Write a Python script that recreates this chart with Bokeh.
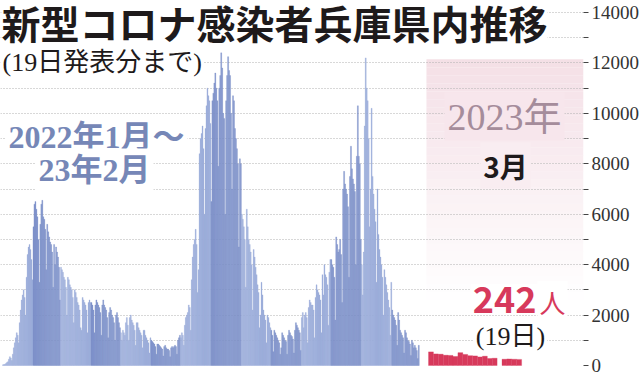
import numpy as np
import pandas as pd
from bokeh.plotting import figure
from bokeh.models import Range1d, FixedTicker, Label, ColumnDataSource
from bokeh.embed import file_html
from bokeh.resources import INLINE

# Daily new cases, Hyogo
jan22 = [30, 40, 50, 80, 120, 150, 250, 350, 300, 200, 450, 700, 900, 1100, 1300, 1200, 900,
         1700, 2200, 2600, 2800, 3000, 2700, 2000, 3500, 4400, 4700, 4800, 4600, 4200, 3400]
feb22 = [5500, 6400, 6500, 6200, 5900, 5000, 3300, 5600, 6400, 6550, 5900, 5800, 5400, 3800,
         5600, 5300, 5100, 4900, 4800, 4500, 3100, 4800, 4000, 4700, 4500, 4300, 3900, 2600]
mar22 = [3900, 3800, 3700, 3500, 3400, 3100, 2000, 3500, 3400, 3200, 3100, 3000, 2700, 1700,
         3000, 2900, 2700, 2500, 2400, 2200, 1500, 1400, 2700, 2600, 2500, 2400, 2200, 1300,
         2500, 2600, 2500]
apr22 = [2500, 2400, 2200, 1300, 2400, 2600, 2500, 2400, 2300, 2100, 1200, 2400, 2600, 2400,
         2300, 2200, 1900, 1100, 2100, 2300, 2200, 2000, 1900, 1700, 1000, 2000, 2100, 1900,
         1700, 1500]
may22 = [1300, 1000, 1400, 1300, 1200, 1700, 1900, 1600, 1000, 1900, 2000, 1800, 1700, 1600,
         1400, 800, 1700, 1700, 1500, 1400, 1300, 1200, 700, 1400, 1400, 1200, 1100, 1000, 900,
         500, 1100]
jun22 = [1000, 950, 900, 850, 750, 450, 850, 850, 800, 750, 700, 650, 380, 750, 800, 700, 650,
         650, 600, 350, 700, 750, 700, 750, 800, 750, 450, 1000, 1100, 1200]
jul22 = [1100, 1300, 1200, 800, 1600, 1900, 2000, 2100, 2400, 2300, 1400, 3400, 4300, 4800,
         5000, 5400, 4800, 2900, 3800, 8400, 9000, 9200, 9500, 8600, 6000, 9400, 10300, 11000,
         10700, 10500, 9600]
aug22 = [6500, 10500, 10800, 11200, 11600, 11000, 10500, 7900, 11000, 11500, 12400, 11800,
         10000, 9800, 6000, 10500, 11500, 12250, 11700, 11500, 10000, 7000, 10700, 10500, 9400,
         9000, 8600, 8000, 4700, 8200, 8000]
sep22 = [6000, 5800, 5500, 5000, 3100, 6200, 5500, 5000, 4800, 4500, 4000, 2200, 4600, 4300,
         3900, 3600, 3200, 2900, 1500, 2000, 3300, 2800, 2200, 2000, 1800, 900, 2000, 1900, 1700,
         1500]
oct22 = [1400, 1200, 550, 1400, 1300, 1200, 1100, 1000, 900, 450, 700, 1300, 1200, 1100, 1000,
         950, 450, 1200, 1400, 1300, 1200, 1150, 1050, 500, 1400, 1700, 1600, 1500, 1400, 1300,
         600]
nov22 = [1900, 2100, 1500, 2000, 2100, 1900, 900, 2300, 2600, 2500, 2400, 2400, 2200, 1100,
         2700, 3200, 3000, 2900, 2800, 2600, 1300, 3600, 2800, 4000, 3600, 3500, 3200, 1600,
         3700, 4200]
dec22 = [4200, 4000, 3900, 3500, 1800, 5100, 4800, 4500, 4600, 5000, 4400, 2500, 7000, 7700,
         7200, 7000, 6800, 6300, 3500, 7500, 8700, 7800, 7400, 7200, 6900, 4000, 8300, 10300,
         8300, 8000, 5000]
jan23 = [4000, 2800, 4500, 9500, 12200, 11000, 10500, 9000, 5500, 7000, 10200, 7500, 6800, 6200,
         5700, 3300, 7000, 5200, 4600, 4300, 4000, 3500, 2000, 3800, 3500, 3200, 2900, 2600, 2300,
         1200, 3300]
feb23 = [2200, 2000, 1900, 1800, 1600, 800, 2100, 1800, 1400, 1300, 1200, 1100, 500, 1400, 1300,
         1100, 1000, 950, 850, 400, 1000, 900, 700, 800, 700, 600, 280, 800]
# March 2023 (1st - 19th); NaN = no bar shown
mar23 = [540, 460, 450, 410, 400, 360, 510, 440, 390, 380, 340, 370, 280, 290, float("nan"),
         250, 260, 250, 242]

y_ticks = [0, 2000, 4000, 6000, 8000, 10000, 12000, 14000]
y_minor = [1000, 3000, 5000, 7000, 9000, 11000, 13000]
grid_ticks = [1000, 2000, 3000, 4000, 5000, 6000, 7000, 8000, 9000, 10000, 11000, 12000, 13000, 14000]

LIGHT = "#9badd9"
DARK = "#7c90c9"
RED = "#d7395b"
PINK = "#f4dfe6"

blue = jan22 + feb22 + mar22 + apr22 + may22 + jun22 + jul22 + aug22 + sep22 + oct22 + nov22 + dec22 + jan23 + feb23
dates = pd.date_range("2022-01-01", periods=len(blue), freq="D")
month_idx = (dates.year - 2022) * 12 + dates.month - 1
colors = [LIGHT if m % 2 == 0 else DARK for m in month_idx]
src = ColumnDataSource(dict(x=np.arange(len(blue)) + 0.5, top=blue, color=colors))

mar_days = np.arange(1, len(mar23) + 1)
msrc = ColumnDataSource(dict(x=mar_days - 0.5, top=mar23))

p = figure(frame_width=583, frame_height=376, min_border=0,
           x_range=Range1d(-2.035, 591.05), y_range=Range1d(-436, 14476),
           x_axis_location=None, y_axis_location="right",
           output_backend="svg", toolbar_location=None)
p.extra_x_ranges = {"mar": Range1d(-87.35, 31.63)}
p.outline_line_color = None
p.background_fill_color = "white"
p.border_fill_color = "white"
p.xgrid.visible = False
p.ygrid.ticker = FixedTicker(ticks=grid_ticks)
p.ygrid.grid_line_color = "#b0b0b0"
p.ygrid.grid_line_dash = "1 2"
p.ygrid.grid_line_width = 1

# pink March panel (vertical fade)
n = 30
top_v, bot_v = 12150, 2600
step = (top_v - bot_v) / n
for k in range(n):
    t0 = top_v - k * step
    r = p.quad(left=431.3, right=591.05, top=t0, bottom=t0 - step,
               fill_color=PINK, fill_alpha=max(0.0, 1 - (k + 0.5) / n), line_color=None)
    r.level = "image"

p.vbar(x="x", top="top", width=1.0, bottom=0, source=src, fill_color="color",
       line_color="color", line_width=0.3)
p.vbar(x="x", top="top", width=1.0, bottom=0, source=msrc, fill_color=RED,
       line_color=RED, line_width=0.3, x_range_name="mar")

ax = p.yaxis[0]
ax.ticker = FixedTicker(ticks=y_ticks, minor_ticks=y_minor)
ax.axis_line_color = None
ax.major_tick_line_color = "#444444"
ax.minor_tick_line_color = "#444444"
ax.major_tick_out = 5
ax.major_tick_in = 0
ax.minor_tick_out = 5
ax.minor_tick_in = 0
ax.major_label_standoff = 3
ax.major_label_text_font = "Liberation Sans Narrow"
ax.major_label_text_font_size = "19px"
ax.major_label_text_color = "#333333"

H = 376
SERIF = "Liberation Serif, Noto Sans CJK JP"
SANS = "Noto Sans CJK JP"


def lab(text, x, yc, size, color, font=SANS, style="normal", align="center", bg="white", pad=3):
    p.add_layout(Label(x=x, y=H - yc, x_units="screen", y_units="screen", text=text,
                       text_font=font, text_font_size=size, text_font_style=style,
                       text_color=color, text_align=align, text_baseline="middle",
                       background_fill_color=bg, padding=pad))


lab("新型コロナ感染者兵庫県内推移", 1, 25, "39px", "#1e1a1b",
    font="Liberation Sans, Noto Sans CJK JP", style="bold", align="left", pad=0)
lab("(19日発表分まで)", 0, 62, "26px", "#1e1a1b", font=SERIF, align="left", pad=2)
lab("2022年1月～", 96, 136, "32px", "#7687b7", font=SERIF, style="bold", pad=3)
lab("23年2月", 94, 169, "32px", "#7687b7", font=SERIF, style="bold", pad=3)
lab("2023年", 504, 116, "38px", "#a58c9b", font=SERIF, bg="#f7e6ec", pad=3)
lab("3月", 505, 165, "28px", "#1e1a1b", style="bold", bg="#f9edf1", pad=3)
lab("242", 538, 299, "36px", RED, style="bold", align="right", pad=2)
lab("人", 537, 301, "26px", RED, align="left", pad=2)
lab("(19日)", 510, 336, "26px", "#1e1a1b", font=SERIF, pad=2)

open("out.html", "w").write(file_html(p, INLINE))
